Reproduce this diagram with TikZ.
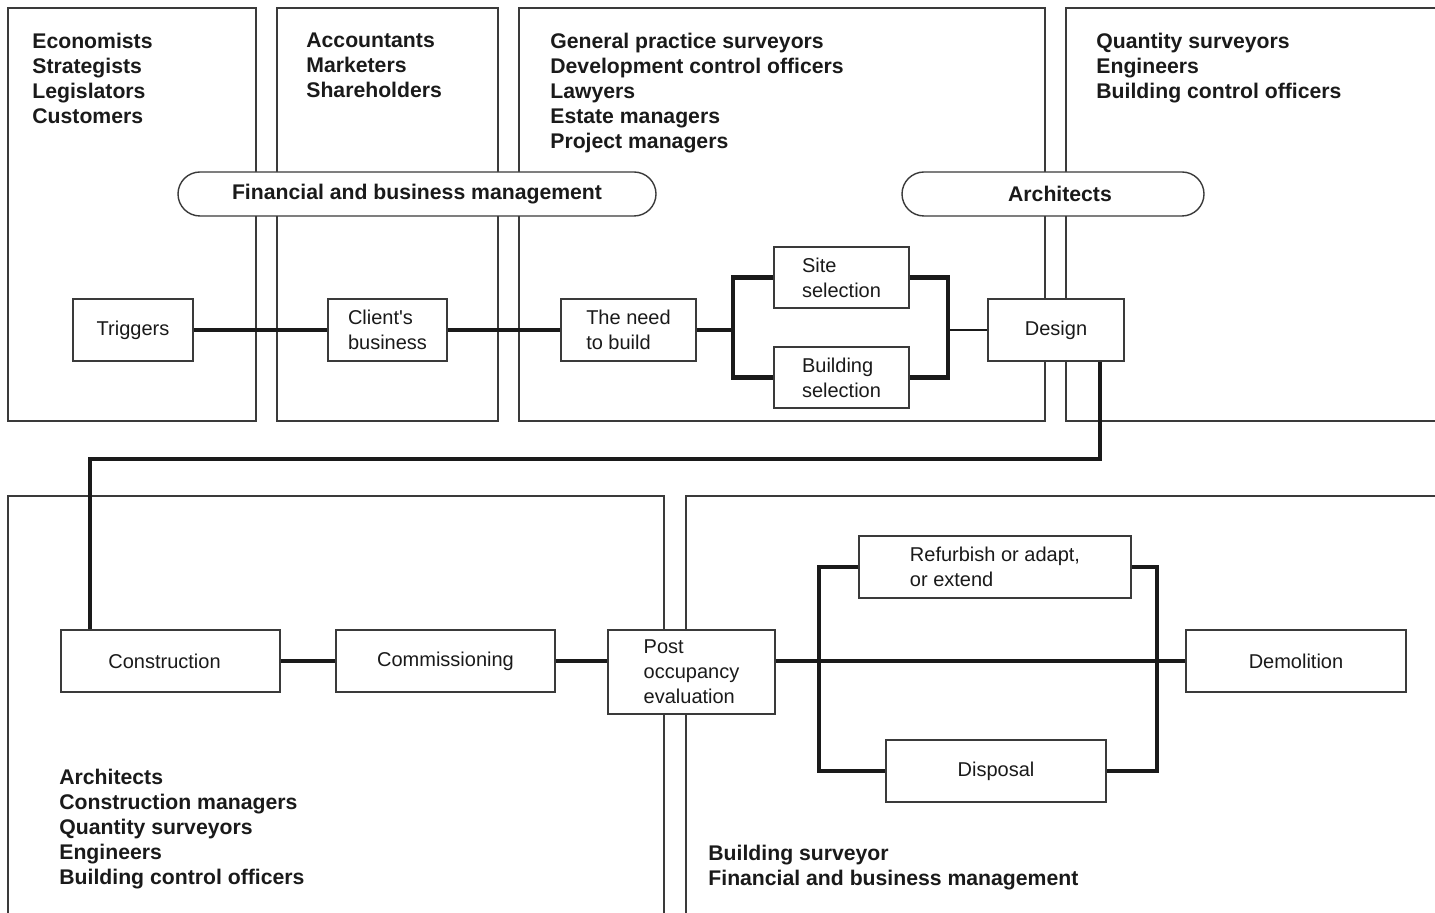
\documentclass[tikz,border=0pt]{standalone}
\usepackage{fontspec}
\setmainfont{Liberation Sans}
\usetikzlibrary{shapes.misc}
\definecolor{ink}{HTML}{1A1A1A}
\definecolor{panelc}{HTML}{3A3A3A}
\tikzset{
  panel/.style={draw=panelc, line width=0.7pt},
  listtxt/.style={anchor=north west, inner sep=0pt, align=left, text=ink,
    font=\fontsize{10.6}{12.5}\selectfont\bfseries},
  pill/.style={draw=panelc, line width=0.7pt, fill=white, rounded rectangle,
    minimum height=22pt, inner sep=0pt, text=ink,
    font=\fontsize{10.6}{12.5}\selectfont\bfseries},
  stage/.style={draw=panelc, line width=0.65pt, fill=white, align=left,
    inner sep=0pt, text=ink, minimum height=31pt,
    font=\fontsize{10}{12.5}\selectfont},
  flow/.style={draw=ink, line width=2.3pt},
  thinflow/.style={draw=ink, line width=1pt}
}
\begin{document}
\begin{tikzpicture}[x=0.5pt,y=-0.5pt]
\useasboundingbox (0,0) rectangle (1435,913);
% panels
\draw[panel] (8,8) rectangle (256,421);
\draw[panel] (277,8) rectangle (498,421);
\draw[panel] (519,8) rectangle (1045,421);
\draw[panel] (1435,8) -- (1066,8) -- (1066,421) -- (1435,421);
\draw[panel] (8,913) -- (8,496) -- (664,496) -- (664,913);
\draw[panel] (1435,496) -- (686,496) -- (686,913);
% lists
\node[listtxt] (l1) at (32,33) {Economists\\Strategists\\Legislators\\Customers};
\node[listtxt] (l2) at (306,33) {Accountants\\Marketers\\Shareholders};
\node[listtxt] (l3) at (550,33) {General practice surveyors\\Development control officers\\Lawyers\\Estate managers\\Project managers};
\node[listtxt] (l4) at (1096,33) {Quantity surveyors\\Engineers\\Building control officers};
\node[listtxt] (l5) at (59,769) {Architects\\Construction managers\\Quantity surveyors\\Engineers\\Building control officers};
\node[listtxt] (l6) at (708,845) {Building surveyor\\Financial and business management};
% pills
\node[pill, minimum width=239pt] (fbm) at (417,194) {\raisebox{-0.5pt}{Financial and business management}};
\node[pill, minimum width=151pt] (arch) at (1053,194) {\hspace{7pt}Architects};
% stage boxes
\node[stage, minimum width=60pt] (trig) at (133,330) {Triggers};
\node[stage, minimum width=59.5pt] (client) at (387.5,330) {Client\textquotesingle s\\business};
\node[stage, minimum width=67.5pt] (need) at (628.5,330) {The need\\to build\hspace{3pt}};
\node[stage, minimum width=67.5pt, minimum height=30.5pt] (site) at (841.5,277.5) {Site\\selection\hspace{6pt}};
\node[stage, minimum width=67.5pt, minimum height=30.5pt] (bsel) at (841.5,377.5) {Building\\selection};
\node[stage, minimum width=68pt] (design) at (1056,330) {Design};
\node[stage, minimum width=109.5pt] (cons) at (170.5,661) {Construction\hspace{6pt}};
\node[stage, minimum width=109.5pt] (comm) at (445.5,661) {Commissioning};
\node[stage, minimum width=83.5pt, minimum height=42pt] (post) at (691.5,672) {Post\\occupancy\\evaluation\hspace{3pt}};
\node[stage, minimum width=136pt] (refurb) at (995,567) {Refurbish or adapt,\\or extend\hspace{5pt}};
\node[stage, minimum width=110pt] (disp) at (996,771) {Disposal};
\node[stage, minimum width=110pt] (demo) at (1296,661) {Demolition};
% junction coordinates
\coordinate (jl) at (733,330);
\coordinate (jr) at (948,330);
\coordinate (turnA) at (1100,459);
\coordinate (turnB) at (90,459);
\coordinate (bl) at (819,661);
\coordinate (br) at (1157,661);
% connectors
\draw[flow] (trig.east) -- (client.west);
\draw[flow] (client.east) -- (need.west);
\draw[flow] (need.east) -- (jl);
\draw[flow, line join=miter] (site.west) -| (jl) |- (bsel.west);
\draw[flow, line join=miter] (site.east) -| (jr) |- (bsel.east);
\draw[thinflow] (jr) -- (design.west);
\draw[flow, line join=miter] (design.south -| turnA) -- (turnA) -- (turnB) -- (cons.north -| turnB);
\draw[flow] (cons.east) -- (comm.west);
\draw[flow] (comm.east) -- (post.west |- comm.east);
\draw[flow] (post.east |- demo.west) -- (demo.west);
\draw[flow, line join=miter] (refurb.west) -| (bl) |- (disp.west);
\draw[flow, line join=miter] (refurb.east) -| (br) |- (disp.east);
\end{tikzpicture}
\end{document}
